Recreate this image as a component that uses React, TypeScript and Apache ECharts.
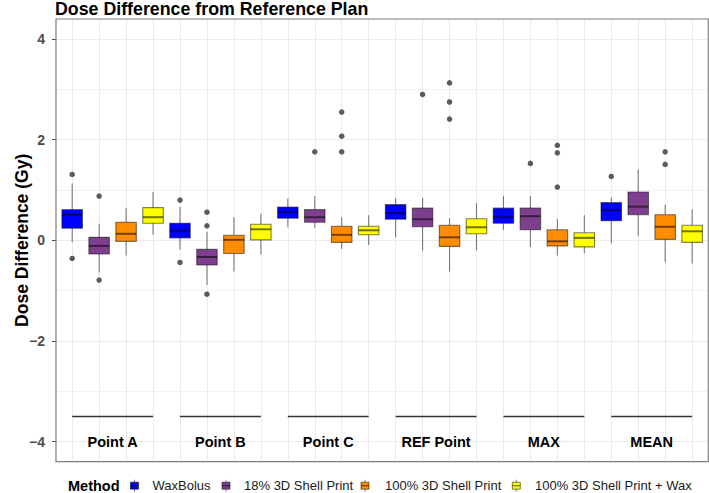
import React, { useEffect, useRef } from 'react';
import * as echarts from 'echarts';

// ---------- data ----------
const pointLabels = ['Point A', 'Point B', 'Point C', 'REF Point', 'MAX', 'MEAN'];
const methods = ['WaxBolus', '18% 3D Shell Print', '100% 3D Shell Print', '100% 3D Shell Print + Wax'];
const methodColors = ['#0000FF', '#7F3F8F', '#FF8C00', '#FFFF00'];

// [lower whisker, Q1, median, Q3, upper whisker] for each point
const waxBolusStats = [
  [-0.04, 0.24, 0.51, 0.61, 1.13],
  [-0.18, 0.05, 0.19, 0.34, 0.67],
  [0.26, 0.44, 0.56, 0.66, 0.83],
  [0.06, 0.42, 0.54, 0.71, 0.84],
  [0.21, 0.34, 0.46, 0.64, 0.88],
  [-0.06, 0.39, 0.6, 0.75, 0.85],
];
const shell18Stats = [
  [-0.64, -0.27, -0.11, 0.06, 0.33],
  [-0.89, -0.49, -0.33, -0.18, 0.17],
  [0.25, 0.36, 0.46, 0.61, 0.88],
  [-0.2, 0.27, 0.42, 0.64, 0.84],
  [-0.13, 0.21, 0.48, 0.64, 0.88],
  [0.09, 0.51, 0.67, 0.96, 1.41],
];
const shell100Stats = [
  [-0.3, -0.02, 0.13, 0.36, 0.65],
  [-0.62, -0.26, 0.01, 0.1, 0.46],
  [-0.17, -0.04, 0.11, 0.28, 0.46],
  [-0.62, -0.12, 0.06, 0.3, 0.44],
  [-0.3, -0.11, -0.02, 0.21, 0.42],
  [-0.43, 0.02, 0.27, 0.51, 0.71],
];
const shell100WaxStats = [
  [0.11, 0.34, 0.46, 0.65, 0.96],
  [-0.28, 0.01, 0.22, 0.32, 0.53],
  [-0.09, 0.11, 0.2, 0.28, 0.5],
  [-0.2, 0.13, 0.26, 0.43, 0.74],
  [-0.25, -0.13, 0.05, 0.15, 0.5],
  [-0.46, -0.04, 0.18, 0.3, 0.62],
];

// [point index, value]
const waxBolusOutliers = [[0, 1.31], [0, -0.36], [1, 0.8], [1, -0.44], [5, 1.27]];
const shell18Outliers = [[0, 0.88], [0, -0.79], [1, 0.56], [1, 0.29], [1, -1.07], [2, 1.76], [3, 2.9], [4, 1.53]];
const shell100Outliers = [[2, 2.55], [2, 2.07], [2, 1.76], [3, 3.13], [3, 2.75], [3, 2.41], [4, 1.89], [4, 1.74], [4, 1.06], [5, 1.76], [5, 1.51]];
const shell100WaxOutliers: number[][] = [];

const allStats = [waxBolusStats, shell18Stats, shell100Stats, shell100WaxStats];
const allOutliers = [waxBolusOutliers, shell18Outliers, shell100Outliers, shell100WaxOutliers];

const yTickValues = [-4, -2, 0, 2, 4];
const segmentY = -3.5;
const labelY = -4;

// ---------- layout ----------
const W = 709;
const H = 493;
const PANEL_L = 56;
const PANEL_R = 708.3;
const PANEL_T = 19;
const PANEL_B = 461.7;
const X_MIN = 0.4;
const X_MAX = 24.6;
const Y_MIN = -4.4;
const Y_MAX = 4.4;
const FONT = '"Liberation Sans", Arial, sans-serif';

const legendKeyX = [134.5, 226, 365, 516.3];
const legendTextX = [152.5, 244, 385, 535];
const legendY = 485.7;

export default function App() {
  const ref = useRef<HTMLDivElement>(null);

  useEffect(() => {
    if (!ref.current) return;
    const chart = echarts.init(ref.current, undefined, { renderer: 'svg' });

    const nGroups = pointLabels.length;
    const nMethods = methods.length;
    const pxX = (PANEL_R - PANEL_L) / (X_MAX - X_MIN);
    const pxY = (PANEL_B - PANEL_T) / (Y_MAX - Y_MIN);
    const posOf = (p: number, m: number) => p * nMethods + m + 1;

    const gridA = { left: PANEL_L, top: PANEL_T, right: W - PANEL_R, bottom: H - PANEL_B };
    const gridB = {
      left: PANEL_L,
      right: W - PANEL_R,
      top: PANEL_T + (Y_MAX - yTickValues[yTickValues.length - 1]) * pxY,
      bottom: H - PANEL_B + (yTickValues[0] - Y_MIN) * pxY,
    };
    const gridC = {
      left: PANEL_L + (1 - X_MIN) * pxX,
      right: W - PANEL_R + (X_MAX - nGroups * nMethods) * pxX,
      top: PANEL_T,
      bottom: H - PANEL_B,
    };

    const boxSeries = methods.map((name, m) => ({
      type: 'custom',
      name,
      xAxisIndex: 0,
      yAxisIndex: 0,
      z: 3,
      data: allStats[m].map((s, p) => [posOf(p, m), ...s]),
      renderItem: (params: any, api: any) => {
        const x = api.value(0);
        const lo = api.coord([x, api.value(1)]);
        const q1 = api.coord([x, api.value(2)]);
        const med = api.coord([x, api.value(3)]);
        const q3 = api.coord([x, api.value(4)]);
        const hi = api.coord([x, api.value(5)]);
        const w = api.size([0.76, 0])[0];
        const lineC = 'rgba(0,0,0,0.5)';
        return {
          type: 'group',
          children: [
            { type: 'line', shape: { x1: lo[0], y1: lo[1], x2: q1[0], y2: q1[1] }, style: { stroke: lineC, lineWidth: 1.1 } },
            { type: 'line', shape: { x1: q3[0], y1: q3[1], x2: hi[0], y2: hi[1] }, style: { stroke: lineC, lineWidth: 1.1 } },
            {
              type: 'rect',
              shape: { x: q3[0] - w / 2, y: q3[1], width: w, height: q1[1] - q3[1] },
              style: { fill: methodColors[m], stroke: lineC, lineWidth: 1.1 },
            },
            {
              type: 'line',
              shape: { x1: med[0] - w / 2, y1: med[1], x2: med[0] + w / 2, y2: med[1] },
              style: { stroke: 'rgba(0,0,0,0.55)', lineWidth: 2 },
            },
          ],
        };
      },
    }));

    const outlierSeries = methods.map((name, m) => ({
      type: 'scatter',
      name,
      xAxisIndex: 0,
      yAxisIndex: 0,
      z: 4,
      symbol: 'circle',
      symbolSize: 5.5,
      itemStyle: { color: '#333333' },
      data: allOutliers[m].map(([p, v]) => [posOf(p, m), v]),
    }));

    const segmentSeries = {
      type: 'lines',
      coordinateSystem: 'cartesian2d',
      xAxisIndex: 0,
      yAxisIndex: 0,
      z: 3,
      lineStyle: { color: '#333333', width: 1.3, opacity: 1 },
      data: pointLabels.map((_, p) => ({
        coords: [
          [posOf(p, 0), segmentY],
          [posOf(p, nMethods - 1), segmentY],
        ],
      })),
    };

    const labelSeries = {
      type: 'custom',
      xAxisIndex: 0,
      yAxisIndex: 0,
      z: 3,
      data: pointLabels.map((name, p) => ({ value: [(posOf(p, 0) + posOf(p, nMethods - 1)) / 2, labelY], name })),
      renderItem: (params: any, api: any) => {
        const c = api.coord([api.value(0), api.value(1)]);
        return {
          type: 'text',
          x: c[0],
          y: c[1],
          style: {
            text: pointLabels[params.dataIndex],
            font: `bold 14.5px ${FONT}`,
            fill: '#000000',
            align: 'center',
            verticalAlign: 'middle',
          },
        };
      },
    };

    const legendGraphics: any[] = [
      {
        type: 'text',
        x: 68,
        y: legendY,
        style: { text: 'Method', font: `bold 14.5px ${FONT}`, fill: '#000', verticalAlign: 'middle' },
      },
    ];
    methods.forEach((name, m) => {
      legendGraphics.push({
        type: 'line',
        shape: { x1: legendKeyX[m], y1: legendY - 6, x2: legendKeyX[m], y2: legendY + 6 },
        style: { stroke: 'rgba(0,0,0,0.5)', lineWidth: 1 },
      });
      legendGraphics.push({
        type: 'rect',
        shape: { x: legendKeyX[m] - 4, y: legendY - 3.5, width: 8, height: 7 },
        style: { fill: methodColors[m], stroke: 'rgba(0,0,0,0.5)', lineWidth: 1 },
      });
      legendGraphics.push({
        type: 'line',
        shape: { x1: legendKeyX[m] - 4, y1: legendY, x2: legendKeyX[m] + 4, y2: legendY },
        style: { stroke: 'rgba(0,0,0,0.55)', lineWidth: 1.2 },
      });
      legendGraphics.push({
        type: 'text',
        x: legendTextX[m],
        y: legendY,
        style: { text: name, font: `13px ${FONT}`, fill: '#1a1a1a', verticalAlign: 'middle' },
      });
    });

    chart.setOption({
      animation: false,
      backgroundColor: '#ffffff',
      textStyle: { fontFamily: FONT },
      title: {
        text: 'Dose Difference from Reference Plan',
        left: PANEL_L - 1,
        top: 0,
        padding: 0,
        textStyle: { fontSize: 17.8, fontWeight: 'bold', color: '#000000', fontFamily: FONT, lineHeight: 17 },
      },
      grid: [
        { ...gridA, show: true, borderColor: '#7f7f7f', borderWidth: 1.2, backgroundColor: 'transparent', z: 1 },
        { ...gridB, show: false },
        { ...gridC, show: false },
      ],
      xAxis: [
        { type: 'value', gridIndex: 0, min: X_MIN, max: X_MAX, show: false, splitLine: { show: false } },
        { type: 'value', gridIndex: 1, min: 0, max: 1, show: false, splitLine: { show: false } },
        {
          type: 'value',
          gridIndex: 2,
          min: 1,
          max: nGroups * nMethods,
          interval: 1,
          axisLine: { show: false },
          axisTick: { show: false },
          axisLabel: { show: false },
          splitLine: { show: true, lineStyle: { color: '#ebebeb', width: 1 } },
        },
      ],
      yAxis: [
        { type: 'value', gridIndex: 0, min: Y_MIN, max: Y_MAX, show: false, splitLine: { show: false } },
        {
          type: 'value',
          gridIndex: 1,
          min: yTickValues[0],
          max: yTickValues[yTickValues.length - 1],
          interval: yTickValues[1] - yTickValues[0],
          name: 'Dose Difference (Gy)',
          nameLocation: 'middle',
          nameGap: 25,
          nameMoveOverlap: false,
          nameRotate: 90,
          nameTextStyle: { fontSize: 17.5, fontWeight: 'bold', color: '#000000', fontFamily: FONT },
          axisLine: { show: false },
          axisTick: { show: true, length: 4, lineStyle: { color: '#4d4d4d', width: 1 } },
          axisLabel: {
            margin: 11,
            fontSize: 14,
            fontWeight: 'bold',
            color: '#4d4d4d',
            fontFamily: FONT,
            formatter: (v: number) => (v < 0 ? '\u2212' + Math.abs(v) : String(v)),
          },
          splitLine: { show: true, lineStyle: { color: '#ebebeb', width: 1 } },
          minorTick: { show: false, splitNumber: 2 },
          minorSplitLine: { show: true, lineStyle: { color: '#f2f2f2', width: 1 } },
        },
        { type: 'value', gridIndex: 2, min: 0, max: 1, show: false, splitLine: { show: false } },
      ],
      graphic: legendGraphics,
      series: [...boxSeries, ...outlierSeries, segmentSeries, labelSeries],
    });

    return () => chart.dispose();
  }, []);

  return <div ref={ref} style={{ position: 'fixed', left: 0, top: 0, width: W, height: H }} />;
}
